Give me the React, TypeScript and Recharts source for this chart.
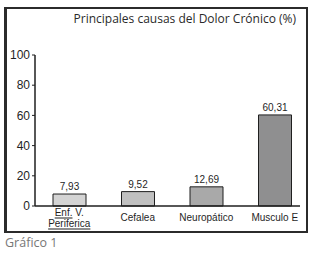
import { Bar, BarChart, Cell, LabelList, XAxis, YAxis } from "recharts";

const categories = ["Enf. V. Periferica", "Cefalea", "Neuropático", "Musculo E"];
const values = [7.93, 9.52, 12.69, 60.31];
const yTicks = [0, 20, 40, 60, 80, 100];

// Excel-style spellcheck marks in the original picture
const flaggedWords = ["Enf.", "Periferica"];
const labelLines: Record<string, string[]> = {
  "Enf. V. Periferica": ["Enf. V.", "Periferica"],
};

const barColors = ["#d4d4d4", "#c0c0c0", "#a9a9a9", "#8f8f90"];
const ink = "#1f1f1f";

const data = categories.map((name, i) => ({ name, value: values[i] }));

function CategoryTick(props: any) {
  const { x, y, payload } = props;
  const lines = labelLines[payload.value] ?? [payload.value];
  const lineH = 11;
  const startY = y + 5 - ((lines.length - 1) * lineH) / 2;
  return (
    <text
      x={x}
      y={startY}
      textAnchor="middle"
      dominantBaseline="central"
      fill={ink}
      fontSize={10}
      fontFamily="'Liberation Sans', Arial, sans-serif"
    >
      {lines.map((line, li) => (
        <tspan key={li} x={x} y={startY + li * lineH}>
          {line.split(" ").map((w, wi) => (
            <tspan
              key={wi}
              style={
                flaggedWords.includes(w)
                  ? { textDecoration: "underline wavy #e00000" }
                  : undefined
              }
            >
              {(wi > 0 ? " " : "") + w}
            </tspan>
          ))}
        </tspan>
      ))}
    </text>
  );
}

export default function App() {
  return (
    <div
      style={{
        position: "absolute",
        left: 0,
        top: 0,
        width: 317,
        height: 253,
        background: "#fff",
        fontFamily: "'Open Sans', sans-serif",
      }}
    >
      <div style={{ position: "absolute", left: 0, top: 0 }}>
        <BarChart
          width={317}
          height={253}
          data={data}
          margin={{ top: 55, right: 17, bottom: 17, left: 10 }}
          barSize={33}
        >
          <XAxis
            dataKey="name"
            height={30}
            interval={0}
            tickLine={false}
            tickMargin={0}
            axisLine={{ stroke: ink, strokeWidth: 1.5 }}
            padding={{ left: 0, right: -9 }}
            tick={<CategoryTick />}
          />
          <YAxis
            width={25}
            domain={[0, 100]}
            ticks={yTicks}
            interval={0}
            tickSize={3}
            tickMargin={2}
            axisLine={{ stroke: ink, strokeWidth: 1.5 }}
            tickLine={{ stroke: ink }}
            tick={{
              fill: ink,
              fontSize: 12,
              fontFamily: "'Liberation Sans Narrow', 'Liberation Sans', Arial, sans-serif",
            }}
          />
          <Bar dataKey="value" stroke={ink} strokeWidth={1} isAnimationActive={false}>
            {data.map((d, i) => (
              <Cell key={d.name} fill={barColors[i]} />
            ))}
            <LabelList
              dataKey="value"
              position="top"
              offset={4}
              fill={ink}
              fontSize={10}
              fontFamily="'Liberation Sans', Arial, sans-serif"
              formatter={(v: any) => Number(v).toFixed(2).replace(".", ",")}
            />
          </Bar>
        </BarChart>
      </div>
      <div
        style={{
          position: "absolute",
          left: 4,
          top: 7,
          width: 304,
          height: 226,
          boxSizing: "border-box",
          border: "2px solid #2b2b2b",
          borderLeftWidth: 3,
          pointerEvents: "none",
        }}
      />
      <div
        style={{
          position: "absolute",
          right: 21,
          top: 10,
          fontSize: 12,
          color: "#2a2a2a",
          whiteSpace: "nowrap",
        }}
      >
        Principales causas del Dolor Crónico (%)
      </div>
      <div
        style={{
          position: "absolute",
          left: 5,
          top: 234,
          fontSize: 12.5,
          color: "#777",
        }}
      >
        Gráfico 1
      </div>
    </div>
  );
}
